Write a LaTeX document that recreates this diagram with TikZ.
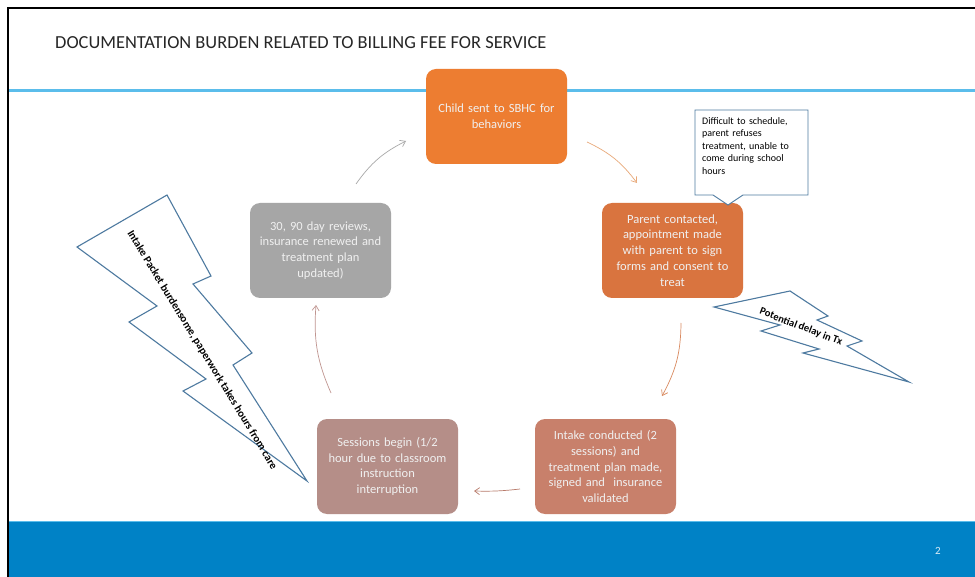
\documentclass[tikz,border=0pt]{standalone}
\usepackage{fontspec}
\setmainfont{Carlito}
\usetikzlibrary{arrows.meta}
\definecolor{cTop}{HTML}{ED7D31}
\definecolor{cParent}{HTML}{D9743F}
\definecolor{cIntake}{HTML}{C8806B}
\definecolor{cSess}{HTML}{B58E88}
\definecolor{cGray}{HTML}{A6A6A6}
\definecolor{cLine}{HTML}{5BBDEB}
\definecolor{cBand}{HTML}{0082C6}
\definecolor{cBolt}{HTML}{4E7AA0}
\definecolor{cTitle}{HTML}{262626}
\definecolor{aGray}{HTML}{A8A8A8}
\definecolor{aOrange}{HTML}{E8A878}
\definecolor{aOrange2}{HTML}{D98A60}
\definecolor{aBrown}{HTML}{B87A6A}
\definecolor{aRose}{HTML}{C09590}
\tikzset{
  box/.style={rounded corners=10pt, minimum width=141pt, minimum height=95pt,
    text width=138pt, align=center, text=white!94!black, inner sep=0pt,
    font=\fontsize{12.5}{15.8}\selectfont},
  flow/.style={line width=0.7pt, -{Straight Barb[length=5pt,width=7pt]}, bend left=14},
  bolt/.style={draw=cBolt, line width=1.1pt, fill=white, line join=miter},
  bolttext/.style={font=\fontsize{11}{12}\selectfont\bfseries, text=black, inner sep=0pt}
}
\begin{document}
\begin{tikzpicture}[x=1pt,y=-1pt]
\path[use as bounding box] (0,0) rectangle (975,577);
\fill[white] (0,0) rectangle (975,577);
% top rule and bottom band
\draw[cLine, line width=3pt] (8,91) -- (975,91);
\fill[cBand] (8,521) rectangle (975,577);
\draw[cLine, line width=1pt] (8,521.5) -- (975,521.5);
\draw[black, line width=2.2pt] (8,577) -- (8,8) -- (975,8);
% title
\node[anchor=base west, inner sep=0pt, text=cTitle, font=\fontsize{18.4}{20}\selectfont] (title) at (55,49) {DOCUMENTATION BURDEN RELATED TO BILLING FEE FOR SERVICE};
\node[anchor=center, inner sep=0pt, text=white!85!cBand, font=\fontsize{11}{12}\selectfont] (pnum) at (938,551) {2};
% boxes
\node[box, fill=cTop] (top) at (496.5,116.5) {Child sent to SBHC for\\behaviors};
\node[box, fill=cGray] (review) at (320.5,250.5) {30, 90 day reviews,\\insurance renewed and\\treatment plan\\updated)};
\node[box, fill=cParent] (parent) at (672.5,250.5) {Parent contacted,\\appointment made\\with parent to sign\\forms and consent to\\treat};
\node[box, fill=cIntake] (intake) at (605.5,466.5) {Intake conducted (2\\sessions) and\\treatment plan made,\\signed and\ \ insurance\\validated};
\node[box, fill=cSess] (sessions) at (387.5,466.5) {Sessions begin (1/2\\hour due to classroom\\instruction\\interruption};
% connector end points
\coordinate (a1s) at (356,184); \coordinate (a1e) at (406,141);
\coordinate (a2s) at (587,142); \coordinate (a2e) at (637,183);
\coordinate (a3s) at (681,323); \coordinate (a3e) at (662,396);
\coordinate (a4s) at (520,489); \coordinate (a4e) at (474,491);
\coordinate (a5s) at (331,393); \coordinate (a5e) at (316,305);
\draw[flow, aGray] (a1s) to (a1e);
\draw[flow, aOrange] (a2s) to (a2e);
\draw[flow, aOrange2] (a3s) to (a3e);
\draw[flow, aBrown, bend left=4] (a4s) to (a4e);
\draw[flow, aRose] (a5s) to (a5e);
% callout
\draw[draw=cBolt, line width=0.9pt, fill=white, line join=miter]
  (695,110) -- (808,110) -- (808,195) -- (743,195) -- (728,205) -- (713,195) -- (695,195) -- cycle;
\node[anchor=north west, inner sep=0pt, text width=104pt, align=left,
  font=\fontsize{10}{12.6}\selectfont] (callout) at (702,117)
  {Difficult to schedule,\\parent refuses\\treatment, unable to\\come during school\\hours};
% lightning bolt left
\draw[bolt] (167,195) -- (211,276) -- (193,284) -- (252,353) -- (233,365) -- (307,481)
  -- (183,391) -- (206,379) -- (129,322) -- (157,306) -- (77,247) -- cycle;
\node[bolttext, rotate=-58.6] (boltL) at (202,350) {Intake Packet burdensome, paperwork takes hours from care};
% lightning bolt right
\draw[bolt] (714,307) -- (790,291) -- (828,316) -- (817,320) -- (862,341) -- (847,346)
  -- (909,382) -- (803,353) -- (819,349) -- (761,331) -- (780,325) -- cycle;
\node[bolttext, font=\fontsize{10.5}{11}\selectfont\bfseries, rotate=-21] (boltR) at (801,327) {Potential delay in Tx};
\end{tikzpicture}
\end{document}
